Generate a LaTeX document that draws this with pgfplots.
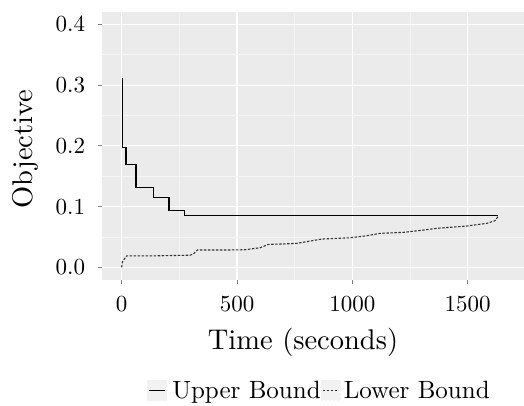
\documentclass[border=0pt]{standalone}
\usepackage{graphicx}
\usepackage{pgfplots}
\pgfplotsset{compat=1.18}
\definecolor{ggbg}{HTML}{EBEBEB}
\definecolor{ggminor}{HTML}{F4F4F4}
\definecolor{ggkey}{HTML}{F2F2F2}
\definecolor{ggtick}{HTML}{7F7F7F}

\begin{document}
\begin{tikzpicture}
\begin{axis}[
    name=ax,
    scale only axis,
    width=421.7pt, height=267.3pt,
    xmin=-84, xmax=1744,
    ymin=-0.02, ymax=0.42,
    xtick={0,500,1000,1500},
    ytick={0,0.1,0.2,0.3,0.4},
    minor xtick={250,750,1250},
    minor ytick={0.05,0.15,0.25,0.35},
    xtick pos=bottom, ytick pos=left,
    tick align=outside,
    major tick length=4pt, minor tick length=0pt,
    tick style={ggtick, line width=1pt},
    axis line style={draw=none},
    axis background/.style={fill=ggbg},
    grid=both,
    major grid style={white, line width=1.2pt},
    minor grid style={ggminor, line width=0.6pt},
    /pgf/number format/assume math mode=true,
    tick label style={font=\fontsize{10}{12}\selectfont},
    xticklabel={\scalebox{2.3}{\pgfmathprintnumber[1000 sep={}]{\tick}}},
    yticklabel={\scalebox{2.3}{\pgfmathprintnumber[fixed,fixed zerofill,precision=1]{\tick}}},
    xticklabel style={inner sep=0pt, anchor=north, yshift=-12pt},
    yticklabel style={inner sep=0pt, anchor=east, xshift=-13pt},
    xlabel={\scalebox{2.85}{Time (seconds)}},
    ylabel={\scalebox{2.85}{Objective}},
    label style={font=\fontsize{10}{12}\selectfont},
    xlabel style={at={(axis description cs:0.476,-0.236)}, anchor=center},
    ylabel style={at={(axis description cs:-0.182,0.489)}, anchor=center},
    legend columns=2,
    legend style={at={(axis description cs:0.106,-0.415)}, anchor=west,
                  draw=none, fill=none, inner sep=0pt,
                  font=\fontsize{10}{12}\selectfont,
                  nodes={inner sep=0pt},
                  /tikz/every even column/.append style={column sep=0pt}},
    legend image code/.code={
        \fill[ggkey] (0pt,-10pt) rectangle (19pt,10pt);
        \draw[#1] (1.5pt,0pt) -- (17.5pt,0pt);
    },
]
% upper bound
\addplot[const plot, black, line width=1.1pt] coordinates {
    (1.8,0.311) (2.3,0.280) (2.6,0.197) (18.6,0.169) (62,0.132)
    (139,0.1145) (205,0.0942) (273,0.0855) (1633,0.0855)
};
\addlegendentry{\hspace{5pt}\scalebox{2.5}{Upper Bound}}
% lower bound
\addplot[black!80, line width=1.1pt, dash pattern=on 2.5pt off 1.5pt] coordinates {
    (0,0.000) (3,0.009) (14,0.015) (22,0.019) (150,0.019) (296,0.020)
    (311,0.022) (328,0.0285) (450,0.0285) (535,0.0290) (600,0.0323)
    (636,0.0378) (700,0.0385) (759,0.0395) (867,0.0466) (990,0.0487)
    (1062,0.052) (1120,0.056) (1221,0.0576) (1300,0.061) (1365,0.0642)
    (1495,0.068) (1582,0.0724) (1618,0.0767) (1633,0.0844)
};
\addlegendentry{\hspace{3pt}\scalebox{2.5}{Lower Bound}}
\end{axis}
\pgfresetboundingbox
\path ([xshift=-102.3pt,yshift=-125.5pt]ax.south west) rectangle ([yshift=12.2pt]ax.north east);
\end{tikzpicture}
\end{document}
